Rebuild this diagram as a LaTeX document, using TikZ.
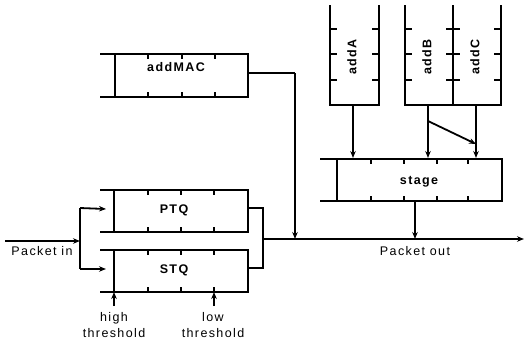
\documentclass[tikz,border=0pt]{standalone}
\usepackage{fontspec}
\setmainfont{Liberation Sans}[LetterSpace=11]
\usetikzlibrary{arrows.meta}
\begin{document}
\begin{tikzpicture}[x=1pt,y=-1pt,
  line/.style={line width=1.8pt},
  arr/.style={line width=1.8pt,-{Stealth[length=7pt,width=5.5pt]}},
  qlabel/.style={font=\bfseries\fontsize{12.5}{14}\selectfont, inner sep=0pt},
  txt/.style={font=\fontsize{12.5}{16}\selectfont, align=center, inner sep=0pt}]
\useasboundingbox (0,0) rectangle (525,341);
% ---------- horizontal queues ----------
% PTQ
\draw[line] (100,190) -- (248,190) -- (248,232) -- (100,232);
\draw[line] (114,190) -- (114,232);
\foreach \t in {148,181,214}{\draw[line] (\t,190) -- (\t,195); \draw[line] (\t,232) -- (\t,227);}
\node[qlabel] (ptq) at (174,210) {PTQ};
% STQ
\draw[line] (100,250) -- (248,250) -- (248,292) -- (100,292);
\draw[line] (114,250) -- (114,292);
\foreach \t in {148,181,214}{\draw[line] (\t,250) -- (\t,255); \draw[line] (\t,292) -- (\t,287);}
\node[qlabel] (stq) at (174,270) {STQ};
% addMAC
\draw[line] (100,54) -- (248,54) -- (248,97) -- (100,97);
\draw[line] (115,54) -- (115,97);
\foreach \t in {148,182,215}{\draw[line] (\t,54) -- (\t,59); \draw[line] (\t,97) -- (\t,92);}
\node[qlabel] (mac) at (176,67) {addMAC};
% stage
\draw[line] (320,159) -- (502,159) -- (502,201) -- (320,201);
\draw[line] (337,159) -- (337,201);
\foreach \t in {371,404,437,468}{\draw[line] (\t,159) -- (\t,164); \draw[line] (\t,201) -- (\t,196);}
\node[qlabel] (stage) at (419,182) {stage};
% ---------- vertical queues ----------
\draw[line] (330,5) -- (330,105) -- (379,105) -- (379,5);
\foreach \t in {29,54,80}{\draw[line] (330,\t) -- (337,\t); \draw[line] (379,\t) -- (372,\t);}
\node[qlabel,rotate=90] (adda) at (352,57) {addA};
\draw[line] (405,5) -- (405,105) -- (501,105) -- (501,5);
\draw[line] (453,5) -- (453,105);
\foreach \t in {29,54,80}{\draw[line] (405,\t) -- (412,\t); \draw[line] (446,\t) -- (460,\t); \draw[line] (501,\t) -- (494,\t);}
\node[qlabel,rotate=90] (addb) at (427,57) {addB};
\node[qlabel,rotate=90] (addc) at (475,57) {addC};
% ---------- coordinates ----------
\coordinate (pin) at (5,241);
\coordinate (split) at (80,241);
\coordinate (splitT) at (80,208);
\coordinate (splitB) at (80,269);
\coordinate (ptqin) at (106,209);
\coordinate (stqin) at (106,269);
\coordinate (ptqout) at (248,208);
\coordinate (stqout) at (248,268);
\coordinate (mergeT) at (263,208);
\coordinate (mergeB) at (263,268);
\coordinate (merge) at (263,239);
\coordinate (pout) at (524,239);
\coordinate (macout) at (248,73);
\coordinate (maccorner) at (295,73);
\coordinate (macjoin) at (295,239);
\coordinate (aout) at (353,105);
\coordinate (ain) at (353,158);
\coordinate (bout) at (428,105);
\coordinate (bin) at (428,158);
\coordinate (cout) at (476,105);
\coordinate (cin) at (476,158);
\coordinate (dstart) at (428,121);
\coordinate (dend) at (476,144);
\coordinate (stout) at (415,201);
\coordinate (stjoin) at (415,239);
\coordinate (hith) at (114,306);
\coordinate (hitop) at (114,292);
\coordinate (loth) at (214,306);
\coordinate (lotop) at (214,292);
% ---------- connectors ----------
\draw[arr] (pin) -- (split);
\draw[line] (splitT) -- (splitB);
\draw[arr] (splitT) -- (ptqin);
\draw[arr] (splitB) -- (stqin);
\draw[line] (ptqout) -- (mergeT) -- (mergeB) -- (stqout);
\draw[arr] (merge) -- (pout);
\draw[line] (macout) -- (maccorner);
\draw[arr] (maccorner) -- (macjoin);
\draw[arr] (aout) -- (ain);
\draw[arr] (bout) -- (bin);
\draw[arr] (cout) -- (cin);
\draw[arr] (dstart) -- (dend);
\draw[arr] (stout) -- (stjoin);
\draw[arr] (hith) -- (hitop);
\draw[arr] (loth) -- (lotop);
% ---------- labels ----------
\node[txt] (lin) at (42,251) {Packet in};
\node[txt] (lout) at (415,251) {Packet out};
\node[txt] (lhi) at (114,325) {high\\threshold};
\node[txt] (llo) at (213,325) {low\\threshold};
\end{tikzpicture}
\end{document}
